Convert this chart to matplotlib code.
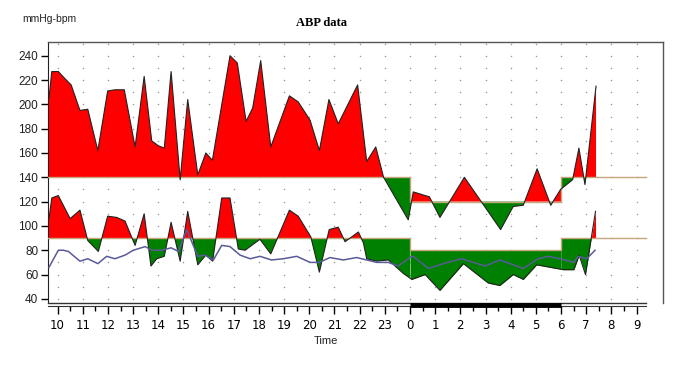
import numpy as np
import matplotlib
matplotlib.use('Agg')
import matplotlib.pyplot as plt

sys_t = [9.66, 9.77, 10.03, 10.30, 10.54, 10.89, 11.20, 11.60, 11.99, 12.28, 12.65, 13.08,
         13.44, 13.74, 14.00, 14.24, 14.51, 14.87, 15.17, 15.57, 15.89, 16.15, 16.85, 17.14,
         17.49, 17.75, 18.07, 18.47, 19.21, 19.56, 20.03, 20.40, 20.78, 21.15, 21.92, 22.28,
         22.64, 22.95, 23.93, 24.13, 24.60, 24.77, 25.19, 26.16, 27.60, 28.10, 28.50, 29.05,
         29.59, 29.98, 30.46, 30.71, 30.95, 31.39]
sys_v = [205, 227, 227, 221, 216, 195, 196, 162, 211, 212, 212, 165,
         223, 170, 166, 164, 227, 138, 204, 142, 160, 154, 240, 234,
         186, 197, 236, 165, 207, 202, 187, 162, 204, 184, 216, 153,
         165, 140, 105, 128, 125, 124, 107, 140, 97, 116, 117, 147,
         117, 130, 138, 164, 134, 215]

dia_t = [9.66, 9.77, 10.03, 10.50, 10.89, 11.20, 11.62, 11.99, 12.35, 12.68, 13.08, 13.44,
         13.71, 13.94, 14.24, 14.51, 14.87, 15.17, 15.57, 15.89, 16.16, 16.52, 16.85, 17.18,
         17.45, 18.04, 18.47, 19.21, 19.56, 20.06, 20.40, 20.79, 21.15, 21.42, 21.95, 22.15,
         22.28, 22.68, 23.14, 23.73, 24.07, 24.60, 25.19, 26.12, 27.11, 27.57, 28.10, 28.50,
         29.03, 29.56, 30.09, 30.51, 30.72, 30.97, 31.37]
dia_v = [106, 123, 125, 106, 113, 88, 79, 108, 107, 104, 84, 110,
         67, 73, 75, 103, 71, 112, 68, 76, 71, 123, 123, 81,
         80, 89, 77, 113, 108, 91, 62, 97, 99, 87, 95, 86,
         73, 71, 72, 61, 56, 60, 47, 69, 53, 51, 60, 56,
         68, 66, 64, 64, 76, 60, 112]

hr_t = [9.66, 10.03, 10.23, 10.43, 10.89, 11.20, 11.60, 11.95, 12.28, 12.68, 13.01, 13.48,
        13.74, 14.14, 14.51, 14.80, 15.13, 15.57, 15.86, 16.19, 16.52, 16.85, 17.25, 17.65,
        18.04, 18.50, 18.97, 19.50, 20.03, 20.40, 20.82, 21.35, 21.88, 22.28, 22.68, 23.14,
        23.53, 24.00, 24.13, 24.73, 25.32, 26.05, 26.98, 27.57, 28.50, 29.09, 29.49, 29.96,
        30.51, 30.68, 31.02, 31.35]
hr_v = [66, 80, 80, 79, 71, 73, 69, 75, 73, 76, 80, 83,
        80, 80, 82, 79, 97, 75, 76, 72, 84, 83, 76, 73,
        75, 72, 73, 75, 70, 70, 74, 72, 74, 72, 70, 70,
        67, 74, 75, 65, 69, 73, 67, 72, 65, 73, 75, 73,
        70, 75, 73, 80]

night_start, night_end = 24, 30
sys_limits = (140, 120)   # day, night
dia_limits = (90, 80)
hours = list(range(10, 34))
tick_labels = [str(h % 24) for h in hours]

xmin, xmax = 9.62, 34.05
xend = 33.37
RED = '#ff0000'
GREEN = '#008000'
LIMIT = '#c8a47c'

fig = plt.figure(figsize=(6.94, 3.8), dpi=100)
ax = fig.add_axes([48/694, 1-303/380, (663-48)/694, (303-42)/380])


def band(t, v, limits):
    t = np.array(t, float)
    v = np.array(v, float)
    day, night = limits
    segs = [(t[0], night_start, day), (night_start, night_end, night), (night_end, t[-1], day)]
    for a, b, thr in segs:
        inside = (t > a) & (t < b)
        xs = np.concatenate([[a], t[inside], [b]])
        ys = np.concatenate([[np.interp(a, t, v)], v[inside], [np.interp(b, t, v)]])
        ax.fill_between(xs, ys, thr, where=ys >= thr, interpolate=True, color=RED, lw=0, zorder=2)
        ax.fill_between(xs, ys, thr, where=ys <= thr, interpolate=True, color=GREEN, lw=0, zorder=2)
    # limit line
    lx = [xmin, night_start, night_start, night_end, night_end, xend]
    ly = [day, day, night, night, day, day]
    ax.plot(lx, ly, color=LIMIT, lw=1, zorder=3)
    ax.plot(t, v, color='#222222', lw=0.8, zorder=4)


# dotted grid
gx, gy = np.meshgrid(hours, np.arange(40, 251, 10))
ax.scatter(gx.ravel(), gy.ravel(), s=1.2, color='#9a9a9a', lw=0, zorder=1)

band(sys_t, sys_v, sys_limits)
band(dia_t, dia_v, dia_limits)
ax.plot(hr_t, hr_v, color='#5a5a98', lw=1.1, zorder=5)

ax.set_xlim(xmin, xmax)
ax.set_ylim(36.6, 251.3)

ax.set_yticks(range(40, 241, 20))
ax.set_xticks(hours)
ax.set_xticklabels(tick_labels)
ax.set_xticks(np.arange(10.5, 33.5, 1), minor=True)
ax.tick_params(axis='y', length=5, width=1, pad=2, labelsize=8.5)
ax.tick_params(axis='x', which='major', length=6, width=1, pad=3, labelsize=8.5)
ax.tick_params(axis='x', which='minor', length=3.5, width=1)
for lab in ax.get_xticklabels() + ax.get_yticklabels():
    lab.set_family('Liberation Sans')
    lab.set_color('#222222')

ax.spines['bottom'].set_position(('outward', 2.2))
ax.spines['bottom'].set_bounds(xmin, xend)
ax.spines['bottom'].set_color('#333333')
for s in ['top', 'right']:
    ax.spines[s].set_color('#555555')
    ax.spines[s].set_linewidth(1)
ax.spines['left'].set_color('#222222')

# inner bottom line and night bar
tr = ax.get_xaxis_transform()
ax.plot([xmin, xend], [0, 0], transform=tr, color='#333333', lw=1, clip_on=False, zorder=6)
ax.plot([night_start, night_end], [-0.006, -0.006], transform=tr, color='black', lw=3.5,
        solid_capstyle='butt', clip_on=False, zorder=7)

fig.text(321/694, 1-23/380, 'ABP data', ha='center', va='center', fontsize=9,
         fontweight='bold', family='Liberation Serif')
fig.text(22/694, 1-19/380, 'mmHg-bpm', ha='left', va='center', fontsize=7.5,
         family='Liberation Sans', color='#222222')
fig.text(326/694, 1-341/380, 'Time', ha='center', va='center', fontsize=8,
         family='Liberation Sans', color='#222222')

fig.savefig('out.png', dpi=100)
